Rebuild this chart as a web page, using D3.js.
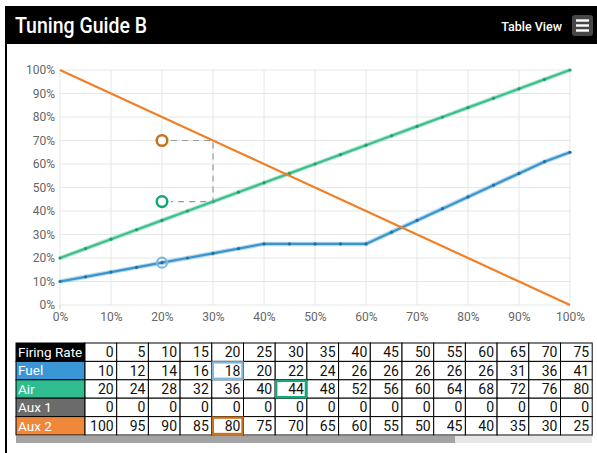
<!DOCTYPE html>
<html><head><meta charset="utf-8">
<script src="https://cdn.jsdelivr.net/npm/d3@7"></script>
<style>
html,body{margin:0;padding:0;background:#fff;overflow:hidden;}
svg{display:block;font-family:Roboto,"Noto Sans",sans-serif;}
</style></head>
<body>
<svg id="c" width="597" height="453"></svg>
<script>
// ---- data ----
const firingRate = [0,5,10,15,20,25,30,35,40,45,50,55,60,65,70,75,80,85,90,95,100];
const fuel = [10,12,14,16,18,20,22,24,26,26,26,26,26,31,36,41,46,51,56,61,65];
const air  = [20,24,28,32,36,40,44,48,52,56,60,64,68,72,76,80,84,88,92,96,100];
const aux1 = [0,0,0,0,0,0,0,0,0,0,0,0,0,0,0,0,0,0,0,0,0];
const aux2 = [100,95,90,85,80,75,70,65,60,55,50,45,40,35,30,25,20,15,10,5,0];
const yTicks = [0,10,20,30,40,50,60,70,80,90,100];
const xTicks = [0,10,20,30,40,50,60,70,80,90,100];
const rowNames = ["Firing Rate","Fuel","Air","Aux 1","Aux 2"];
const rowColors = ["#000000","#3a96d6","#2fbd8f","#6b6b6b","#f0883a"];
// markers: current point
const markerX = 20;
const markerFuel = 18, markerAir = 44, markerAux2 = 70;
const bracketX = 30;
// highlighted cells [rowIndex, columnIndex, colour]
const highlights = [[1,4,"#7fb6df"],[2,6,"#13a878"],[4,4,"#c8711f"]];

const svg = d3.select("#c");

// outer frame
svg.append("rect").attr("x",6).attr("y",7).attr("width",600).attr("height",460)
  .attr("fill","#fff").attr("stroke","#000").attr("stroke-width",2);
svg.append("rect").attr("x",5).attr("y",6).attr("width",600).attr("height",38).attr("fill","#000");
svg.append("text").attr("x",15).attr("y",33).attr("fill","#fff")
  .attr("font-size",22).attr("font-weight",500)
  .attr("textLength",132).attr("lengthAdjust","spacingAndGlyphs").text("Tuning Guide B");
svg.append("text").attr("x",562).attr("y",31).attr("fill","#fff").attr("text-anchor","end")
  .attr("font-size",12.5).attr("font-weight",500).text("Table View");
svg.append("rect").attr("x",572).attr("y",15).attr("width",21).attr("height",21).attr("rx",3).attr("fill","#474747");
[20.5,25.5,30.5].forEach(y=>svg.append("rect").attr("x",576).attr("y",y-1.2).attr("width",13).attr("height",2.4).attr("fill","#fff"));

// ---- chart ----
const x = d3.scaleLinear().domain([0,100]).range([60,570]);
const y = d3.scaleLinear().domain([0,100]).range([305,70]);
const g = svg.append("g");

// grid
g.selectAll(".gx").data(xTicks).enter().append("line")
  .attr("x1",d=>x(d)).attr("x2",d=>x(d)).attr("y1",y(100)).attr("y2",y(0))
  .attr("stroke","#e3e8e3").attr("stroke-width",1);
g.selectAll(".gy").data(yTicks).enter().append("line")
  .attr("x1",x(0)).attr("x2",x(100)).attr("y1",d=>y(d)).attr("y2",d=>y(d))
  .attr("stroke","#e3e8e3").attr("stroke-width",1);

// axes
const ya = g.append("g").attr("transform",`translate(${x(0)},0)`)
  .call(d3.axisLeft(y).tickValues(yTicks).tickFormat(d=>d+"%").tickSize(0).tickPadding(5));
const xa = g.append("g").attr("transform",`translate(0,${y(0)})`)
  .call(d3.axisBottom(x).tickValues(xTicks).tickFormat(d=>d+"%").tickSize(0).tickPadding(7));
[ya,xa].forEach(a=>{a.select(".domain").remove();
  a.selectAll("text").attr("fill","#666").attr("font-size",12).attr("font-family","Roboto,sans-serif");});
g.append("line").attr("x1",x(0)).attr("x2",x(0)).attr("y1",y(0)).attr("y2",y(0)+4).attr("stroke","#ccc");

const line = d3.line().x((d,i)=>x(firingRate[i])).y(d=>y(d));
function series(vals,color,halo,dot){
  if(halo) g.append("path").datum(vals).attr("d",line).attr("fill","none")
    .attr("stroke",color).attr("stroke-opacity",0.35).attr("stroke-width",4.5);
  g.append("path").datum(vals).attr("d",line).attr("fill","none")
    .attr("stroke",color).attr("stroke-width",2.2);
  if(dot) g.selectAll(null).data(vals).enter().append("circle")
    .attr("cx",(d,i)=>x(firingRate[i])).attr("cy",d=>y(d)).attr("r",1.6).attr("fill",dot);
}
series(air,"#3dbf8c",true,"#1f9d6b");
series(fuel,"#3a95cc",true,"#1f6fa3");
series(aux2,"#f27f25",false,null);

// dashed bracket
const dash = g.append("g").attr("stroke","#999").attr("stroke-width",1.2).attr("stroke-dasharray","6,5").attr("fill","none");
dash.append("path").attr("d",`M${x(markerX)+9},${y(markerAux2)}H${x(bracketX)}V${y(markerAir)}H${x(markerX)+9}`);

// markers
function marker(v,color){
  g.append("circle").attr("cx",x(markerX)).attr("cy",y(v)).attr("r",5.3)
    .attr("fill","#fff").attr("stroke",color).attr("stroke-width",2.5);
}
marker(markerAux2,"#c8711f");
marker(markerAir,"#0fa878");
g.append("circle").attr("cx",x(markerX)).attr("cy",y(markerFuel)).attr("r",5)
  .attr("fill","none").attr("stroke","#80b7de").attr("stroke-width",2.2);

// ---- table (scrollable: only the columns that fit are visible) ----
const tableRows = [firingRate,fuel,air,aux1,aux2];
const tx0 = 16, ty0 = 343, headW = 69, rowH = 18.4, colW = 31.7, tRight = 592;
const visibleCols = Math.floor((tRight - tx0 - headW) / colW + 0.01);
const cx = d3.scaleLinear().domain([0,1]).range([tx0+headW, tx0+headW+colW]);
const ry = d3.scaleLinear().domain([0,1]).range([ty0, ty0+rowH]);
const tg = svg.append("g");
tableRows.forEach((row,ri)=>{
  tg.append("rect").attr("x",tx0).attr("y",ry(ri)).attr("width",headW).attr("height",rowH)
    .attr("fill",rowColors[ri]).attr("stroke","#000").attr("stroke-width",1);
  tg.append("text").attr("x",tx0+2).attr("y",ry(ri)+rowH/2+4.8).attr("fill","#fff")
    .attr("font-size",13.5).text(rowNames[ri]);
  row.slice(0,visibleCols).forEach((v,ci)=>{
    tg.append("rect").attr("x",cx(ci)).attr("y",ry(ri)).attr("width",colW).attr("height",rowH)
      .attr("fill","#fff").attr("stroke","#000").attr("stroke-width",1);
    tg.append("text").attr("x",cx(ci+1)-3).attr("y",ry(ri)+rowH/2+4.9).attr("text-anchor","end")
      .attr("fill","#111").attr("font-size",14).text(v);
  });
});
highlights.forEach(([ri,ci,col])=>{
  tg.append("rect").attr("x",cx(ci)+1).attr("y",ry(ri)+1).attr("width",colW-2).attr("height",rowH-2)
    .attr("fill","none").attr("stroke",col).attr("stroke-width",2.4);
});
// scrollbar
svg.append("rect").attr("x",tx0).attr("y",ry(5)+1).attr("width",tRight-tx0).attr("height",7).attr("fill","#e6e6e6");
svg.append("rect").attr("x",tx0).attr("y",ry(5)+1).attr("width",455-tx0).attr("height",7).attr("fill","#a3a3a3");
</script>
</body></html>
